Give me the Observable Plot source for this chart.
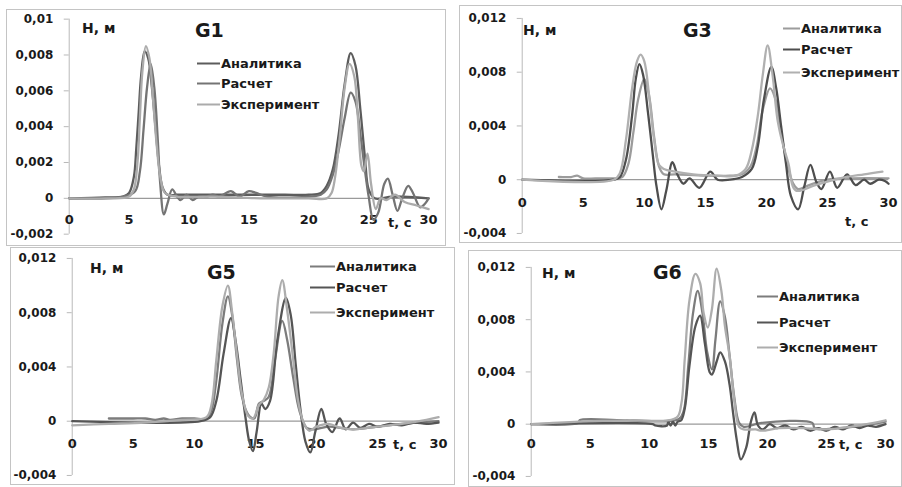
<!DOCTYPE html>
<html><head><meta charset="utf-8">
<script src="https://cdn.jsdelivr.net/npm/d3@7"></script>
<script src="https://cdn.jsdelivr.net/npm/@observablehq/plot@0.6"></script>
<style>
body{margin:0;background:#fff;}
#root{position:relative;width:902px;height:487px;overflow:hidden;font-family:"DejaVu Sans",sans-serif;font-weight:bold;color:#1a1a1a;}
.panel{position:absolute;box-sizing:border-box;border:1px solid #c4c4c4;}
.panel svg{position:absolute;left:-1px;top:-1px;}
.lbl{position:absolute;white-space:nowrap;line-height:1;transform:translateY(-50%);}
.leg{position:absolute;white-space:nowrap;line-height:1;transform:translateY(-50%);font-size:13px;display:flex;align-items:center;}
.leg span.sw{display:inline-block;height:0;border-top:2.5px solid;margin-right:1px;}
</style></head>
<body><div id="root"></div>
<script>
const seriesNames = ["Аналитика", "Расчет", "Эксперимент"];
const xTicks = [0, 5, 10, 15, 20, 25, 30];
const g1YTicks = [-0.002, 0, 0.002, 0.004, 0.006, 0.008, 0.01];
const g3YTicks = [-0.004, 0, 0.004, 0.008, 0.012];
const g5YTicks = [-0.004, 0, 0.004, 0.008, 0.012];
const g6YTicks = [-0.004, 0, 0.004, 0.008, 0.012];

// G1 [t, H]
const g1Analytic = [[0,0],[3,0.00005],[4.5,0.0001],[5,0.0003],[5.4,0.0012],[5.6,0.0028],[5.8,0.0048],[6.0,0.0068],[6.3,0.0082],[6.6,0.0078],[6.9,0.0062],[7.2,0.004],[7.5,0.0018],[7.8,0.0006],[8.2,0.0002],[9,0.0002],[12,0.0002],[15,0.0002],[18,0.0002],[20,0.0002],[21,0.0003],[21.5,0.0007],[22,0.0016],[22.5,0.0036],[23,0.0064],[23.5,0.0081],[23.9,0.0074],[24.3,0.005],[24.7,0.0022],[25,0.0005],[25.5,0],[27,0.0001],[30,0]];
const g1Calc = [[0,0],[4.5,0.0001],[5.5,0.0004],[5.9,0.0015],[6.2,0.0038],[6.5,0.0062],[6.8,0.0075],[7.1,0.0062],[7.4,0.0032],[7.6,0.0008],[7.9,-0.0009],[8.2,-0.0003],[8.6,0.0005],[9.0,0.0001],[9.3,-0.0001],[9.8,0.0002],[10.3,-0.0001],[10.8,0.0001],[11.5,0.0001],[12,0.0002],[12.5,0.0001],[13.5,0.0004],[14.2,0.0001],[15,0.0004],[15.6,0.0003],[16.5,0.0001],[20,0.0001],[21,0.0002],[21.5,0.0005],[22,0.0013],[22.5,0.0027],[23,0.0045],[23.5,0.0059],[23.9,0.0054],[24.3,0.0036],[24.7,0.0015],[25.0,0.0001],[25.4,-0.0012],[25.8,-0.0008],[26.3,0.0008],[26.6,0.0011],[27.0,0.0002],[27.4,-0.0007],[27.8,0],[28.3,0.0007],[28.7,0.0003],[29.3,-0.0005],[29.7,-0.0003],[30,0]];
const g1Exp = [[0,0],[3,0],[5,0.0001],[5.4,0.0005],[5.7,0.002],[5.9,0.0045],[6.1,0.007],[6.4,0.0085],[6.7,0.0078],[7.0,0.0055],[7.3,0.003],[7.6,0.0012],[8,0.0003],[9,0.0001],[12,0.0001],[16,0],[20,0],[21.5,0],[21.9,0.0003],[22.2,0.0012],[22.6,0.0035],[23.0,0.0062],[23.4,0.0075],[23.8,0.0068],[24.1,0.0045],[24.4,0.0018],[24.6,0.0015],[24.9,0.0025],[25.2,0.0008],[25.6,-0.0006],[26.0,0],[26.5,-0.0001],[27.2,0.0002],[28,-0.0002],[29,-0.0004],[30,-0.0006]];

// G3
const g3Analytic = [[3,0.0002],[4,0.0002],[4.5,0.0003],[5,0.0001],[6,0.0001],[7.5,0.0001],[8.2,0.0002],[8.7,0.0012],[9.1,0.0035],[9.5,0.006],[10,0.0075],[10.4,0.0062],[10.8,0.0032],[11.2,0.001],[11.6,0.0004],[12.5,0.0004],[15,0.0003],[17,0.0003],[18,0.0004],[18.7,0.001],[19.2,0.0025],[19.7,0.0052],[20.3,0.0068],[20.8,0.0058],[21.2,0.0035],[21.7,0.0012],[22.2,-0.0003],[22.6,-0.0007],[23.5,-0.0004],[25,0],[27,0.0001],[30,0.0001]];
const g3Calc = [[0,0],[7.5,0],[8.0,0.0002],[8.5,0.0015],[9.0,0.0048],[9.3,0.0075],[9.6,0.0086],[9.9,0.0078],[10.3,0.005],[10.7,0.0018],[11.0,-0.0005],[11.4,-0.0022],[11.8,-0.0008],[12.3,0.0013],[12.7,0.0004],[13.2,-0.0003],[13.7,0.0001],[14.5,-0.0006],[15.4,0.0006],[16.0,0],[17,0],[18,0.0002],[18.8,0.0008],[19.3,0.0025],[19.8,0.006],[20.4,0.0084],[20.8,0.0068],[21.2,0.004],[21.6,0.0012],[22.0,-0.0012],[22.6,-0.0022],[23.1,-0.0005],[23.6,0.0011],[24.1,-0.0002],[24.5,-0.0007],[25.2,0.0006],[25.8,-0.0006],[26.6,0.0004],[27.3,-0.0004],[28,0],[28.5,-0.0003],[29.2,0],[29.7,-0.0001],[30,-0.0003]];
const g3Exp = [[0,0],[7.5,0],[8.0,0.0005],[8.5,0.003],[9.0,0.0068],[9.4,0.0088],[9.7,0.0093],[10.0,0.0088],[10.4,0.0062],[10.8,0.003],[11.2,0.0011],[11.6,0.0008],[12.5,0.0006],[14,0.0004],[16,0.0003],[17.5,0.0003],[18.3,0.0008],[18.8,0.0022],[19.3,0.0048],[19.7,0.0078],[20.1,0.01],[20.5,0.0078],[20.9,0.0045],[21.3,0.0028],[21.8,0.0012],[22.4,-0.0008],[24,-0.0004],[26,0.0001],[28,0.0004],[29.5,0.0006]];

// G5
const g5Analytic = [[3,0.0002],[4,0.0002],[5,0.0002],[6,0.0002],[6.8,0.0001],[7.5,0.0002],[8,0.0001],[9,0.0002],[10,0.0002],[11,0.0002],[11.4,0.0008],[11.8,0.003],[12.3,0.0072],[12.75,0.0092],[13.1,0.0078],[13.5,0.0045],[13.9,0.0018],[14.4,0.0005],[14.9,0.0002],[15.3,0.0013],[15.7,0.0015],[16.1,0.0018],[16.6,0.0045],[17.2,0.0074],[17.6,0.006],[18.1,0.0032],[18.6,0.0008],[19.2,-0.0005],[19.8,-0.0006],[21,-0.0004],[23,-0.0006],[25,-0.0004],[27,-0.0002],[30,0]];
const g5Calc = [[0,0],[10.5,0],[11.3,0.0003],[11.8,0.0015],[12.4,0.005],[13.0,0.0076],[13.4,0.0058],[13.8,0.003],[14.2,0.0002],[14.5,-0.0015],[14.8,-0.0022],[15.1,-0.0008],[15.5,0.0013],[15.8,0.0009],[16.2,0.0015],[16.8,0.006],[17.5,0.0091],[17.9,0.0078],[18.3,0.0042],[18.7,0.0008],[19.1,-0.0015],[19.5,-0.0023],[19.9,-0.0008],[20.4,0.0009],[20.8,-0.0002],[21.3,-0.0008],[21.9,0.0002],[22.4,-0.0006],[23,-0.0001],[23.6,-0.0005],[24.3,-0.0002],[25,-0.0004],[26,-0.0002],[27,-0.0003],[28,-0.0001],[29,-0.0002],[30,-0.0001]];
const g5Exp = [[0,-0.0003],[3,-0.0002],[6,-0.0001],[9,0.0001],[11.0,0.0003],[11.4,0.0012],[11.8,0.0045],[12.3,0.0085],[12.75,0.01],[13.1,0.008],[13.5,0.0048],[13.9,0.002],[14.4,0.0004],[14.8,0.0002],[15.3,0.0012],[15.7,0.0016],[16.1,0.0025],[16.5,0.005],[16.9,0.0092],[17.2,0.0104],[17.6,0.0082],[18.1,0.0045],[18.5,0.0015],[18.9,0],[19.4,-0.0007],[20,-0.0004],[21,-0.0002],[22,-0.0005],[23,-0.0006],[25,-0.0004],[27,-0.0002],[29,0.0001],[30,0.0003]];

// G6
const g6Analytic = [[0,0],[4,0.0001],[4.1,0.0003],[8,0.0003],[12.5,0.0004],[12.9,0.001],[13.3,0.0045],[13.7,0.0085],[14.1,0.0102],[14.5,0.0085],[14.9,0.0055],[15.3,0.0042],[15.6,0.0065],[16.0,0.0094],[16.4,0.0082],[16.8,0.0052],[17.2,0.002],[17.6,0.0001],[18,-0.0002],[19.5,0.0001],[23.8,0.0001],[24,-0.0003],[26,-0.0003],[28,-0.0001],[30,0.0002]];
const g6Calc = [[0,0],[10.3,0],[10.5,-0.0001],[11.5,-0.0001],[11.6,0.0002],[11.8,-0.0001],[12,0.0002],[12.2,-0.0001],[12.4,0.0002],[12.7,0.0003],[13.0,0.0012],[13.4,0.0045],[13.9,0.0075],[14.3,0.0083],[14.7,0.0062],[15.1,0.004],[15.3,0.0038],[15.7,0.0048],[16.0,0.0055],[16.4,0.0048],[16.8,0.003],[17.1,0.0008],[17.4,-0.0012],[17.75,-0.0027],[18.2,-0.0018],[18.6,0.0002],[18.9,0.0009],[19.2,-0.0001],[19.6,-0.0004],[20.2,0],[20.8,-0.0003],[21.5,-0.0001],[22.2,-0.0004],[22.9,-0.0002],[23.6,-0.0005],[24.3,-0.0003],[25,-0.0005],[25.7,-0.0002],[26.4,-0.0004],[27.1,-0.0001],[27.8,-0.0003],[28.5,-0.0001],[29.2,-0.0002],[30,0]];
const g6Exp = [[0,0],[4,0.0002],[8,0.0003],[12.3,0.0005],[12.7,0.0015],[13.0,0.005],[13.4,0.0095],[13.9,0.0115],[14.3,0.0108],[14.6,0.0085],[14.95,0.0074],[15.3,0.0088],[15.7,0.0119],[16.1,0.0102],[16.4,0.0075],[16.8,0.0052],[17.2,0.0018],[17.6,-0.0002],[18,-0.0004],[19,-0.0004],[19.5,-0.0005],[21,-0.0003],[23,-0.0003],[25,-0.0004],[27,-0.0002],[29,0.0001],[30,0.0003]];

const root = document.getElementById("root");
const fmt = d => String(d).replace(".", ",");

function addLabel(text, x, y, size) {
  const el = document.createElement("div");
  el.className = "lbl";
  el.textContent = text;
  el.style.left = x + "px"; el.style.top = y + "px"; el.style.fontSize = size + "px";
  root.appendChild(el);
}
function addLegend(x, ys, swW, colors) {
  seriesNames.forEach((name, i) => {
    const el = document.createElement("div");
    el.className = "leg";
    el.style.left = x + "px"; el.style.top = ys[i] + "px";
    const sw = document.createElement("span");
    sw.className = "sw"; sw.style.width = swW + "px"; sw.style.borderTopColor = colors[i];
    el.appendChild(sw);
    el.appendChild(document.createTextNode(name));
    root.appendChild(el);
  });
}

function panel(cfg) {
  const {box, m, yDomain, yTicks, series, colors} = cfg;
  const div = document.createElement("div");
  div.className = "panel";
  div.style.left = box[0] + "px"; div.style.top = box[1] + "px";
  div.style.width = box[2] + "px"; div.style.height = box[3] + "px";
  const chart = Plot.plot({
    width: box[2], height: box[3],
    marginLeft: m[0], marginRight: m[1], marginTop: m[2], marginBottom: m[3],
    style: {fontFamily: "DejaVu Sans", fontWeight: "bold", fontSize: "12px", color: "#1a1a1a", background: "transparent", overflow: "visible"},
    x: {domain: [0, 30], axis: null},
    y: {domain: yDomain, axis: null},
    marks: [
      Plot.ruleY([0], {stroke: "#9a9a9a", strokeWidth: 1.2}),
      Plot.ruleX([0], {y1: yDomain[0], y2: yDomain[1], stroke: "#b8b8b8"}),
      Plot.axisY(yTicks, {tickSize: 5, tickPadding: 11, tickFormat: fmt, stroke: "#b8b8b8", fill: "#1a1a1a", fontSize: 12}),
      Plot.text(xTicks, {x: d => d, y: () => 0, dy: cfg.xdy, text: d => String(d), fontSize: 13, fill: "#1a1a1a"}),
      ...series.map((s, i) => Plot.line(s, {x: d => d[0], y: d => d[1], stroke: colors[i], strokeWidth: 2.3, curve: "catmull-rom"}))
    ]
  });
  div.appendChild(chart);
  root.appendChild(div);
}

panel({box: [6, 9, 440, 237], m: [63, 16, 9.7, 11.3], yDomain: [-0.002, 0.01], yTicks: g1YTicks, xdy: 22,
  series: [g1Analytic, g1Calc, g1Exp], colors: ["#5c5c5c", "#747474", "#ababab"]});
panel({box: [459, 5, 443, 238], m: [63, 12, 13, 9], yDomain: [-0.004, 0.012], yTicks: g3YTicks, xdy: 23,
  series: [g3Analytic, g3Calc, g3Exp], colors: ["#9c9c9c", "#4e4e4e", "#b0b0b0"]});
panel({box: [10, 247, 445, 238], m: [62, 15, 11, 9], yDomain: [-0.004, 0.012], yTicks: g5YTicks, xdy: 23,
  series: [g5Analytic, g5Calc, g5Exp], colors: ["#7c7c7c", "#555555", "#adadad"]});
panel({box: [468, 250, 434, 237], m: [63, 15, 17, 10], yDomain: [-0.004, 0.012], yTicks: g6YTicks, xdy: 20,
  series: [g6Analytic, g6Calc, g6Exp], colors: ["#7c7c7c", "#555555", "#adadad"]});

// titles, axis names, legends
addLabel("G1", 195, 30, 19); addLabel("G3", 683, 30, 19); addLabel("G5", 207, 272, 19); addLabel("G6", 653, 272, 19);
addLabel("H, м", 82, 28, 14); addLabel("H, м", 523, 30, 14); addLabel("H, м", 90, 268, 14); addLabel("H, м", 542, 273, 14);
addLabel("t, c", 388, 222, 13); addLabel("t, c", 845, 221, 13); addLabel("t, c", 393, 444, 13); addLabel("t, c", 839, 444, 13);
addLegend(197, [63, 83, 104], 23, ["#5c5c5c", "#747474", "#ababab"]);
addLegend(783, [28, 49, 72], 17, ["#9c9c9c", "#4e4e4e", "#b0b0b0"]);
addLegend(310, [266, 287, 312], 25, ["#7c7c7c", "#555555", "#adadad"]);
addLegend(757, [296, 322, 347], 21, ["#7c7c7c", "#555555", "#adadad"]);
</script></body></html>
